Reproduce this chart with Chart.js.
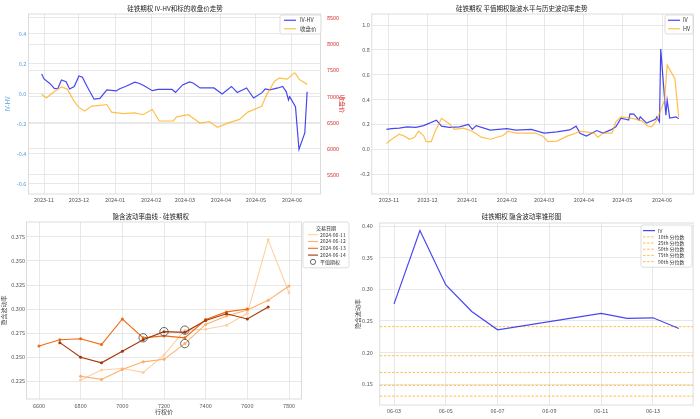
<!DOCTYPE html>
<html>
<head>
<meta charset="utf-8">
<script src="https://cdn.jsdelivr.net/npm/chart.js@4.4.1/dist/chart.umd.min.js"></script>
<style>
  html, body { margin: 0; padding: 0; background: #fff; }
  #wrap { position: relative; width: 700px; height: 419px; overflow: hidden; }
  canvas { position: absolute; }
</style>
</head>
<body>
<div id="wrap">
  <canvas id="ivhv" width="350" height="210" style="left:0;top:0"></canvas>
  <canvas id="trend" width="350" height="210" style="left:350px;top:0"></canvas>
  <canvas id="smile" width="350" height="214" style="left:0;top:205px"></canvas>
  <canvas id="cone" width="350" height="214" style="left:350px;top:205px"></canvas>
</div>
<script>
// ---- data: IV-HV vs close price ----
const ivHvDates = ['2023-10-30','2023-11-01','2023-11-06','2023-11-10','2023-11-13','2023-11-16','2023-11-20','2023-11-23','2023-11-27','2023-12-01','2023-12-04','2023-12-08','2023-12-14','2023-12-19','2023-12-25','2024-01-02','2024-01-05','2024-01-10','2024-01-18','2024-01-22','2024-01-26','2024-02-02','2024-02-07','2024-02-19','2024-02-22','2024-02-28','2024-03-05','2024-03-08','2024-03-14','2024-03-26','2024-04-02','2024-04-10','2024-04-15','2024-04-23','2024-04-29','2024-05-06','2024-05-09','2024-05-13','2024-05-20','2024-05-24','2024-05-27','2024-05-29','2024-05-30','2024-06-04','2024-06-07','2024-06-12','2024-06-14'];
const ivHv = [0.133,0.10,0.07,0.035,0.038,0.093,0.082,0.033,0.05,0.12,0.112,0.05,-0.035,-0.03,0.027,0.02,0.035,0.05,0.078,0.07,0.055,0.022,0.03,0.03,0.01,0.06,0.08,0.073,0.04,0.04,0.0,0.05,0.01,0.04,-0.027,0.007,0.033,0.027,0.04,0.05,0.016,-0.04,-0.018,-0.085,-0.37,-0.26,0.015];
const priceDates = ['2023-10-30','2023-11-03','2023-11-09','2023-11-16','2023-11-21','2023-11-27','2023-12-01','2023-12-06','2023-12-12','2023-12-19','2023-12-25','2023-12-29','2024-01-08','2024-01-18','2024-01-25','2024-02-02','2024-02-08','2024-02-20','2024-02-23','2024-03-04','2024-03-14','2024-03-22','2024-03-29','2024-04-08','2024-04-17','2024-04-24','2024-05-06','2024-05-10','2024-05-17','2024-05-21','2024-05-28','2024-06-03','2024-06-04','2024-06-07','2024-06-14'];
const closePrice = [7040,6970,7080,7180,7140,6900,6790,6720,6815,6830,6845,6700,6670,6685,6650,6750,6530,6530,6610,6650,6490,6520,6410,6500,6560,6700,6810,7020,7290,7350,7330,7450,7440,7330,7230];

// ---- data: ATM IV vs HV ----
const ivDates = ['2023-10-30','2023-11-03','2023-11-09','2023-11-15','2023-11-22','2023-11-28','2023-12-08','2023-12-12','2023-12-18','2023-12-26','2024-01-02','2024-01-05','2024-01-08','2024-01-19','2024-02-01','2024-02-08','2024-02-20','2024-03-01','2024-03-11','2024-03-21','2024-03-26','2024-03-29','2024-04-03','2024-04-11','2024-04-16','2024-04-22','2024-04-26','2024-04-30','2024-05-06','2024-05-07','2024-05-10','2024-05-14','2024-05-15','2024-05-20','2024-05-27','2024-05-28','2024-05-30','2024-05-31','2024-06-04','2024-06-05','2024-06-07','2024-06-12','2024-06-14'];
const atmIv = [0.159,0.165,0.17,0.18,0.175,0.19,0.234,0.185,0.175,0.18,0.2,0.16,0.19,0.153,0.165,0.153,0.16,0.13,0.14,0.155,0.185,0.128,0.105,0.15,0.13,0.155,0.18,0.25,0.235,0.285,0.283,0.234,0.26,0.21,0.24,0.26,0.22,0.806,0.274,0.395,0.25,0.26,0.245];
const hvDates = ['2023-10-30','2023-11-03','2023-11-09','2023-11-13','2023-11-17','2023-11-21','2023-11-24','2023-11-28','2023-11-30','2023-12-04','2023-12-07','2023-12-12','2023-12-18','2023-12-22','2023-12-29','2024-01-05','2024-01-12','2024-01-19','2024-01-29','2024-02-02','2024-02-08','2024-02-23','2024-02-29','2024-03-04','2024-03-11','2024-03-19','2024-03-26','2024-03-29','2024-04-09','2024-04-12','2024-04-16','2024-04-23','2024-04-26','2024-04-30','2024-05-08','2024-05-16','2024-05-21','2024-05-24','2024-05-28','2024-06-03','2024-06-05','2024-06-11','2024-06-14'];
const hv = [0.045,0.08,0.12,0.105,0.08,0.095,0.145,0.11,0.06,0.06,0.145,0.248,0.205,0.16,0.17,0.145,0.097,0.08,0.11,0.145,0.13,0.13,0.105,0.06,0.065,0.105,0.13,0.145,0.13,0.097,0.13,0.13,0.22,0.26,0.25,0.23,0.185,0.18,0.235,0.395,0.677,0.57,0.26];

// ---- data: IV smile ----
const strikes = [6600,6700,6800,6900,7000,7100,7200,7300,7400,7500,7600,7700,7800];
const smileDates = ['2024-06-11','2024-06-12','2024-06-13','2024-06-14'];
const smile0611 = [null,null,0.226,0.2365,0.238,0.234,0.252,0.278,0.279,0.283,0.2955,0.372,0.317];
const smile0612 = [null,null,0.230,0.2267,0.237,0.245,0.2476,0.264,0.284,0.2927,0.299,0.309,0.324];
const smile0613 = [0.2615,0.268,0.269,0.263,0.2896,0.270,0.272,0.270,0.289,0.297,0.300,null,null];
const smile0614 = [null,0.265,0.2497,0.244,0.256,0.268,0.2764,0.2757,0.288,0.295,0.2896,0.302,null];
const atmStrikes = [7300,7300,7100,7200];
const atmVols = [0.278,0.264,0.270,0.2764];

// ---- data: IV cone ----
const coneDates = ['2024-06-03','2024-06-04','2024-06-05','2024-06-06','2024-06-07','2024-06-11','2024-06-12','2024-06-13','2024-06-14'];
const coneIv = [0.277,0.393,0.307,0.265,0.236,0.262,0.254,0.255,0.238];
const quantileLabels = ['10th 分位数','25th 分位数','50th 分位数','75th 分位数','90th 分位数'];
const quantileValues = [0.131,0.148,0.1685,0.195,0.241];

// ---- tick labels ----
const monthTicks = ['2023-11-01','2023-12-01','2024-01-01','2024-02-01','2024-03-01','2024-04-01','2024-05-01','2024-06-01'];
const ivHvTicks = [-0.6,-0.4,-0.2,0,0.2,0.4];
const priceTicks = [5500,6000,6500,7000,7500,8000,8500];
const trendTicks = [-0.2,0,0.2,0.4,0.6,0.8,1.0];
const strikeTicks = [6600,6800,7000,7200,7400,7600,7800];
const smileTicks = [0.225,0.25,0.275,0.3,0.325,0.35,0.375];
const coneDayTicks = ['2024-06-03','2024-06-05','2024-06-07','2024-06-09','2024-06-11','2024-06-13'];
const coneTicks = [0.15,0.2,0.25,0.3,0.35,0.4];

// ---- helpers ----
const FONT = '"Noto Sans CJK SC", "DejaVu Sans", sans-serif';
Chart.defaults.font.family = FONT;
Chart.defaults.color = '#555';
const GRID = '#e2e2e2';
const BLUE = 'rgba(0,0,235,0.72)';
const ORANGE = 'rgba(255,165,0,0.7)';
const DAY = 864e5;
const toMs = s => { const p = s.split('-').map(Number); return Date.UTC(p[0], p[1] - 1, p[2]); };
const pad2 = n => String(n).padStart(2, '0');
const ym = v => { const d = new Date(v); return d.getUTCFullYear() + '-' + pad2(d.getUTCMonth() + 1); };
const md = v => { const d = new Date(v); return pad2(d.getUTCMonth() + 1) + '-' + pad2(d.getUTCDate()); };
const pts = (xs, ys) => xs.map((x, i) => ({ x: x, y: ys[i] })).filter(p => p.y !== null);

function axis(o) {
  return {
    type: 'linear', position: o.pos, min: o.min, max: o.max,
    afterBuildTicks: s => { s.ticks = o.ticks.map(v => ({ value: v })); },
    afterFit: s => { if (o.w !== undefined) s.width = o.w; if (o.h !== undefined) s.height = o.h; },
    grid: { color: GRID, lineWidth: 0.8, drawTicks: false },
    border: { display: false },
    ticks: { autoSkip: false, maxRotation: 0, padding: o.pad, color: o.color || '#555', font: { size: 5.5 }, callback: o.fmt },
    title: o.title ? { display: true, text: o.title, color: o.color || '#444', font: { size: 6 }, padding: o.tpad } : { display: false }
  };
}

function chartTitle(text, top, bottom) {
  return { display: true, text: text, color: '#222', font: { size: 6.5, weight: 'normal' }, padding: { top: top, bottom: bottom } };
}

// plot frame
const frame = {
  id: 'frame',
  beforeDatasetsDraw(chart) {
    const a = chart.chartArea, ctx = chart.ctx;
    ctx.save();
    ctx.strokeStyle = '#d4d4d4';
    ctx.lineWidth = 0.8;
    ctx.strokeRect(a.left, a.top, a.right - a.left, a.bottom - a.top);
    ctx.restore();
  }
};

// small boxed legend drawn on the canvas
const boxLegend = {
  id: 'boxLegend',
  afterDraw(chart, args, o) {
    if (!o || !o.display) return;
    const ctx = chart.ctx;
    const items = chart.data.datasets;
    const rows = items.length + (o.title ? 1 : 0);
    const h = rows * o.rowH + o.pad * 2;
    ctx.save();
    ctx.fillStyle = 'rgba(255,255,255,0.85)';
    ctx.strokeStyle = '#d0d0d0';
    ctx.lineWidth = 0.7;
    ctx.beginPath();
    if (ctx.roundRect) ctx.roundRect(o.x, o.y, o.width, h, 2); else ctx.rect(o.x, o.y, o.width, h);
    ctx.fill();
    ctx.stroke();
    ctx.font = o.fontSize + 'px ' + FONT;
    ctx.textBaseline = 'middle';
    let cy = o.y + o.pad + o.rowH / 2;
    if (o.title) {
      ctx.fillStyle = '#222';
      ctx.textAlign = 'center';
      ctx.fillText(o.title, o.x + o.width / 2, cy);
      cy += o.rowH;
    }
    ctx.textAlign = 'left';
    items.forEach(d => {
      if (d.showLine === false) {
        ctx.beginPath();
        ctx.arc((o.s0 + o.s1) / 2, cy, 2.6, 0, Math.PI * 2);
        ctx.strokeStyle = d.pointBorderColor;
        ctx.lineWidth = 0.9;
        ctx.stroke();
      } else {
        ctx.beginPath();
        ctx.setLineDash(d.borderDash || []);
        ctx.moveTo(o.s0, cy);
        ctx.lineTo(o.s1, cy);
        ctx.strokeStyle = d.borderColor;
        ctx.lineWidth = d.borderWidth;
        ctx.stroke();
        ctx.setLineDash([]);
      }
      ctx.fillStyle = '#333';
      ctx.fillText(d.label, o.textX, cy);
      cy += o.rowH;
    });
    ctx.restore();
  }
};

const common = { responsive: false, animation: false, events: [] };

// ---- top-left: IV-HV and close price ----
const tMin = toMs('2023-10-30') - 11.4 * DAY;
const tMax = toMs('2024-06-14') + 11.4 * DAY;

new Chart(document.getElementById('ivhv'), {
  type: 'line',
  data: {
    datasets: [
      { label: 'IV-HV', data: pts(ivHvDates.map(toMs), ivHv), yAxisID: 'y', borderColor: BLUE, borderWidth: 1.2, pointRadius: 0, order: 2 },
      { label: '收盘价', data: pts(priceDates.map(toMs), closePrice), yAxisID: 'y2', borderColor: ORANGE, borderWidth: 1.2, pointRadius: 0, order: 1 }
    ]
  },
  options: {
    ...common,
    plugins: {
      legend: { display: false }, tooltip: { enabled: false },
      title: chartTitle('硅铁期权 IV-HV和标的收盘价走势', 5, 1.2),
      boxLegend: { display: true, x: 280, y: 15, width: 41, rowH: 8.5, pad: 1, s0: 284, s1: 296, textX: 300, fontSize: 5.5 }
    },
    scales: {
      x: axis({ pos: 'bottom', min: tMin, max: tMax, ticks: monthTicks.map(toMs), h: 16, pad: 2.2, fmt: ym }),
      y: axis({ pos: 'left', min: -0.667, max: 0.533, ticks: ivHvTicks, w: 28.4, pad: 2, color: '#5b9bd5', fmt: v => v.toFixed(1), title: 'IV-HV', tpad: 4.4 }),
      y2: axis({ pos: 'right', min: 5135, max: 8575, ticks: priceTicks, w: 29.6, pad: 6.5, color: '#d62728', fmt: v => String(v), title: '收盘价', tpad: 4.4 })
    }
  },
  plugins: [frame, boxLegend]
});

// ---- top-right: ATM IV vs HV ----
new Chart(document.getElementById('trend'), {
  type: 'line',
  data: {
    datasets: [
      { label: 'IV', data: pts(ivDates.map(toMs), atmIv), borderColor: BLUE, borderWidth: 1.2, pointRadius: 0, order: 2 },
      { label: 'HV', data: pts(hvDates.map(toMs), hv), borderColor: ORANGE, borderWidth: 1.2, pointRadius: 0, order: 1 }
    ]
  },
  options: {
    ...common,
    layout: { padding: { right: 6.7 } },
    plugins: {
      legend: { display: false }, tooltip: { enabled: false },
      title: chartTitle('硅铁期权 平值期权隐波水平与历史波动率走势', 5, 1.2),
      boxLegend: { display: true, x: 315, y: 15, width: 28, rowH: 8.5, pad: 1, s0: 318, s1: 330, textX: 333, fontSize: 5.5 }
    },
    scales: {
      x: axis({ pos: 'bottom', min: tMin, max: tMax, ticks: monthTicks.map(toMs), h: 16, pad: 2.2, fmt: ym }),
      y: axis({ pos: 'left', min: -0.361, max: 1.0886, ticks: trendTicks, w: 21.8, pad: 2, fmt: v => v.toFixed(1) })
    }
  },
  plugins: [frame, boxLegend]
});

// ---- bottom-left: IV smile ----
const smileColors = ['#fdd0a2', '#fdae6b', '#f16913', '#a63603'];
const smileSeries = [smile0611, smile0612, smile0613, smile0614];
const smileSets = smileSeries.map((s, i) => ({
  label: smileDates[i], data: pts(strikes, s), borderColor: smileColors[i], borderWidth: 1.1,
  pointRadius: 1.5, pointBackgroundColor: smileColors[i], pointBorderWidth: 0, order: 10 - i
}));
smileSets.push({
  label: '平值期权', data: pts(atmStrikes, atmVols), showLine: false, pointRadius: 4.2,
  pointBackgroundColor: 'rgba(0,0,0,0)', pointBorderColor: '#555', pointBorderWidth: 0.9, order: 1
});

new Chart(document.getElementById('smile'), {
  type: 'line',
  data: { datasets: smileSets },
  options: {
    ...common,
    layout: { padding: { right: 48.5 } },
    plugins: {
      legend: { display: false }, tooltip: { enabled: false },
      title: chartTitle('隐含波动率曲线 - 硅铁期权', 7.8, 1.4),
      boxLegend: { display: true, title: '交易日期', x: 303, y: 17, width: 46, rowH: 6.8, pad: 2.5, s0: 308, s1: 318, textX: 320, fontSize: 5 }
    },
    scales: {
      x: axis({ pos: 'bottom', min: 6540, max: 7860, ticks: strikeTicks, h: 20, pad: 3.7, fmt: v => String(v), title: '行权价', tpad: 3.7 }),
      y: axis({ pos: 'left', min: 0.2063, max: 0.3906, ticks: smileTicks, w: 26.5, pad: 1.5, fmt: v => v.toFixed(3), title: '隐含波动率', tpad: 0.4 })
    }
  },
  plugins: [frame, boxLegend]
});

// ---- bottom-right: IV cone ----
const cMin = toMs('2024-06-03') - 0.55 * DAY;
const cMax = toMs('2024-06-14') + 0.55 * DAY;
const coneSets = [{ label: 'IV', data: pts(coneDates.map(toMs), coneIv), borderColor: BLUE, borderWidth: 1.2, pointRadius: 0, order: 1 }];
quantileValues.forEach((q, i) => {
  coneSets.push({ label: quantileLabels[i], data: [{ x: cMin, y: q }, { x: cMax, y: q }], borderColor: ORANGE, borderWidth: 1, borderDash: [2.5, 1.6], pointRadius: 0, order: 2 });
});

new Chart(document.getElementById('cone'), {
  type: 'line',
  data: { datasets: coneSets },
  options: {
    ...common,
    layout: { padding: { right: 6.9 } },
    plugins: {
      legend: { display: false }, tooltip: { enabled: false },
      title: chartTitle('硅铁期权 隐含波动率锥形图', 7.8, 2.4),
      boxLegend: { display: true, x: 291, y: 20, width: 51, rowH: 6.2, pad: 2.5, s0: 293, s1: 305, textX: 308, fontSize: 5 }
    },
    scales: {
      x: axis({ pos: 'bottom', min: cMin, max: cMax, ticks: coneDayTicks.map(toMs), h: 14, pad: 2.7, fmt: md }),
      y: axis({ pos: 'left', min: 0.117, max: 0.405, ticks: coneTicks, w: 29.8, pad: 7, fmt: v => v.toFixed(2), title: '隐含波动率', tpad: 4.4 })
    }
  },
  plugins: [frame, boxLegend]
});
</script>
</body>
</html>
